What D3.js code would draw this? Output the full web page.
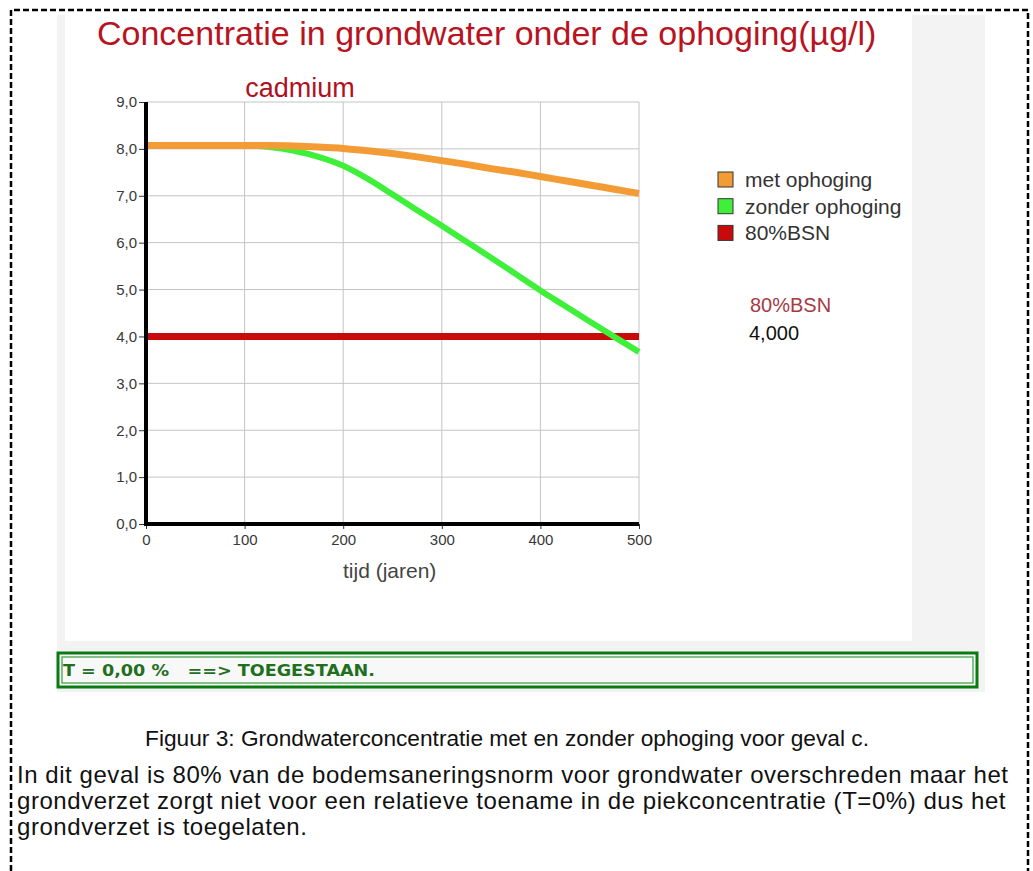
<!DOCTYPE html>
<html>
<head>
  <meta charset="utf-8">
  <script src="https://d3js.org/d3.v7.min.js"></script>
  <style>
    body { margin: 0; background: #fff; }
    svg { display: block; font-family: Arial, "Liberation Sans", sans-serif; }
  </style>
</head>
<body>
  <svg width="1033" height="871"></svg>
  <script>
    // data
    const years = [0, 25, 50, 75, 100, 125, 150, 175, 200, 225, 250, 275, 300, 325, 350, 375, 400, 425, 450, 475, 500];
    const metOphoging = [8.07, 8.07, 8.07, 8.07, 8.07, 8.07, 8.06, 8.04, 8.01, 7.96, 7.90, 7.83, 7.75, 7.67, 7.58, 7.50, 7.41, 7.32, 7.23, 7.14, 7.05];
    const zonderOphoging = [8.07, 8.07, 8.07, 8.07, 8.07, 8.04, 7.96, 7.83, 7.64, 7.36, 7.03, 6.69, 6.36, 6.02, 5.68, 5.33, 4.98, 4.65, 4.32, 3.99, 3.67];
    const bsn80 = 4.0;
    const xTicks = [0, 100, 200, 300, 400, 500];
    const yTicks = [0, 1, 2, 3, 4, 5, 6, 7, 8, 9];
    const legendNames = ["met ophoging", "zonder ophoging", "80%BSN"];
    const seriesColors = ["#f39c36", "#3ff03a", "#c80a0a"];

    const svg = d3.select("svg");

    // dashed frame, open at the bottom
    svg.append("path")
      .attr("d", "M11,880 V10 H1028 V880")
      .attr("fill", "none")
      .attr("stroke", "#000")
      .attr("stroke-width", 2.5)
      .attr("stroke-dasharray", "6,3");

    // chart panel backgrounds
    svg.append("rect").attr("x", 57).attr("y", 15).attr("width", 928).attr("height", 677).attr("fill", "#f3f3f3");
    svg.append("rect").attr("x", 65).attr("y", 15).attr("width", 847).attr("height", 626).attr("fill", "#fff");

    // titles
    svg.append("text")
      .attr("x", 97).attr("y", 45)
      .attr("font-size", 34)
      .attr("fill", "#b8141f")
      .text("Concentratie in grondwater onder de ophoging(µg/l)");

    svg.append("text")
      .attr("x", 300).attr("y", 97)
      .attr("text-anchor", "middle")
      .attr("font-size", 27)
      .attr("fill", "#b01020")
      .text("cadmium");

    const x = d3.scaleLinear().domain([0, 500]).range([146, 639]);
    const y = d3.scaleLinear().domain([0, 9]).range([524, 102]);

    // grid
    const grid = svg.append("g").attr("stroke", "#c4c4c4").attr("stroke-width", 1);
    grid.selectAll(".gx").data(xTicks.slice(1)).join("line")
      .attr("x1", d => x(d)).attr("x2", d => x(d))
      .attr("y1", y(9)).attr("y2", y(0));
    grid.selectAll(".gy").data(yTicks.slice(1)).join("line")
      .attr("x1", x(0)).attr("x2", x(500))
      .attr("y1", d => y(d)).attr("y2", d => y(d));

    // axes
    const fmt = d => d3.format(".1f")(d).replace(".", ",");
    const yAxis = svg.append("g")
      .attr("transform", `translate(${x(0)},0)`)
      .call(d3.axisLeft(y).tickValues(yTicks).tickFormat(fmt).tickSize(7).tickPadding(2));
    const xAxis = svg.append("g")
      .attr("transform", `translate(0,${y(0)})`)
      .call(d3.axisBottom(x).tickValues(xTicks).tickSize(5).tickPadding(5));

    [yAxis, xAxis].forEach(a => {
      a.select(".domain").remove();
      a.selectAll(".tick line").attr("stroke", "#333");
      a.selectAll(".tick text")
        .attr("font-family", "Arial, 'Liberation Sans', sans-serif")
        .attr("font-size", 15)
        .attr("fill", "#383838");
    });

    // series
    const line = d3.line()
      .x((d, i) => x(years[i]))
      .y(d => y(d))
      .curve(d3.curveMonotoneX);

    svg.append("line")
      .attr("x1", x(0)).attr("x2", x(500))
      .attr("y1", y(bsn80)).attr("y2", y(bsn80))
      .attr("stroke", seriesColors[2]).attr("stroke-width", 7);

    svg.append("path").datum(zonderOphoging)
      .attr("d", line)
      .attr("fill", "none")
      .attr("stroke", seriesColors[1])
      .attr("stroke-width", 6);

    svg.append("path").datum(metOphoging)
      .attr("d", line)
      .attr("fill", "none")
      .attr("stroke", seriesColors[0])
      .attr("stroke-width", 7);

    // thick axis lines on top
    svg.append("line")
      .attr("x1", x(0)).attr("x2", x(0)).attr("y1", y(9)).attr("y2", y(0) + 2)
      .attr("stroke", "#000").attr("stroke-width", 4);
    svg.append("line")
      .attr("x1", x(0) - 2).attr("x2", x(500)).attr("y1", y(0)).attr("y2", y(0))
      .attr("stroke", "#000").attr("stroke-width", 4);

    svg.append("text")
      .attr("x", 343).attr("y", 578)
      .attr("font-size", 21)
      .attr("fill", "#444")
      .text("tijd (jaren)");

    // legend
    const legend = svg.append("g").attr("transform", "translate(718,172)");
    const rows = legend.selectAll("g").data(legendNames).join("g")
      .attr("transform", (d, i) => `translate(0,${i * 26.7})`);
    rows.append("rect")
      .attr("width", 15).attr("height", 15)
      .attr("fill", (d, i) => seriesColors[i])
      .attr("stroke", "#333").attr("stroke-width", 1);
    rows.append("text")
      .attr("x", 27).attr("y", 15)
      .attr("font-size", 21)
      .attr("fill", "#333")
      .text(d => d);

    svg.append("text")
      .attr("x", 750).attr("y", 312)
      .attr("font-size", 20)
      .attr("fill", "#a63a46")
      .text("80%BSN");
    svg.append("text")
      .attr("x", 749).attr("y", 340)
      .attr("font-size", 20)
      .attr("fill", "#111")
      .text(d3.format(".3f")(bsn80).replace(".", ","));

    // status bar
    svg.append("rect")
      .attr("x", 58).attr("y", 653).attr("width", 919).attr("height", 34)
      .attr("fill", "#f8f8f8")
      .attr("stroke", "#0b7a12").attr("stroke-width", 3);
    svg.append("rect")
      .attr("x", 62).attr("y", 657).attr("width", 911).attr("height", 26)
      .attr("fill", "none")
      .attr("stroke", "#3a9a40").attr("stroke-width", 1.2);
    svg.append("text")
      .attr("x", 63).attr("y", 676)
      .attr("font-family", "'DejaVu Sans', Verdana, sans-serif")
      .attr("font-weight", "bold")
      .attr("font-size", 15)
      .attr("fill", "#1f6f1f")
      .attr("xml:space", "preserve")
      .attr("textLength", 312)
      .attr("lengthAdjust", "spacingAndGlyphs")
      .text("T = 0,00 %   ==> TOEGESTAAN.");

    // caption and paragraph
    svg.append("text")
      .attr("x", 507).attr("y", 746)
      .attr("text-anchor", "middle")
      .attr("font-size", 22.7)
      .attr("fill", "#111")
      .text("Figuur 3: Grondwaterconcentratie met en zonder ophoging voor geval c.");

    const para = [
      "In dit geval is 80% van de bodemsaneringsnorm voor grondwater overschreden maar het",
      "grondverzet zorgt niet voor een relatieve toename in de piekconcentratie (T=0%) dus het",
      "grondverzet is toegelaten."
    ];
    svg.selectAll(".para").data(para).join("text")
      .attr("x", 17).attr("y", (d, i) => 783 + i * 26)
      .attr("font-size", 24)
      .attr("letter-spacing", 0.55)
      .attr("fill", "#111")
      .text(d => d);
  </script>
</body>
</html>
